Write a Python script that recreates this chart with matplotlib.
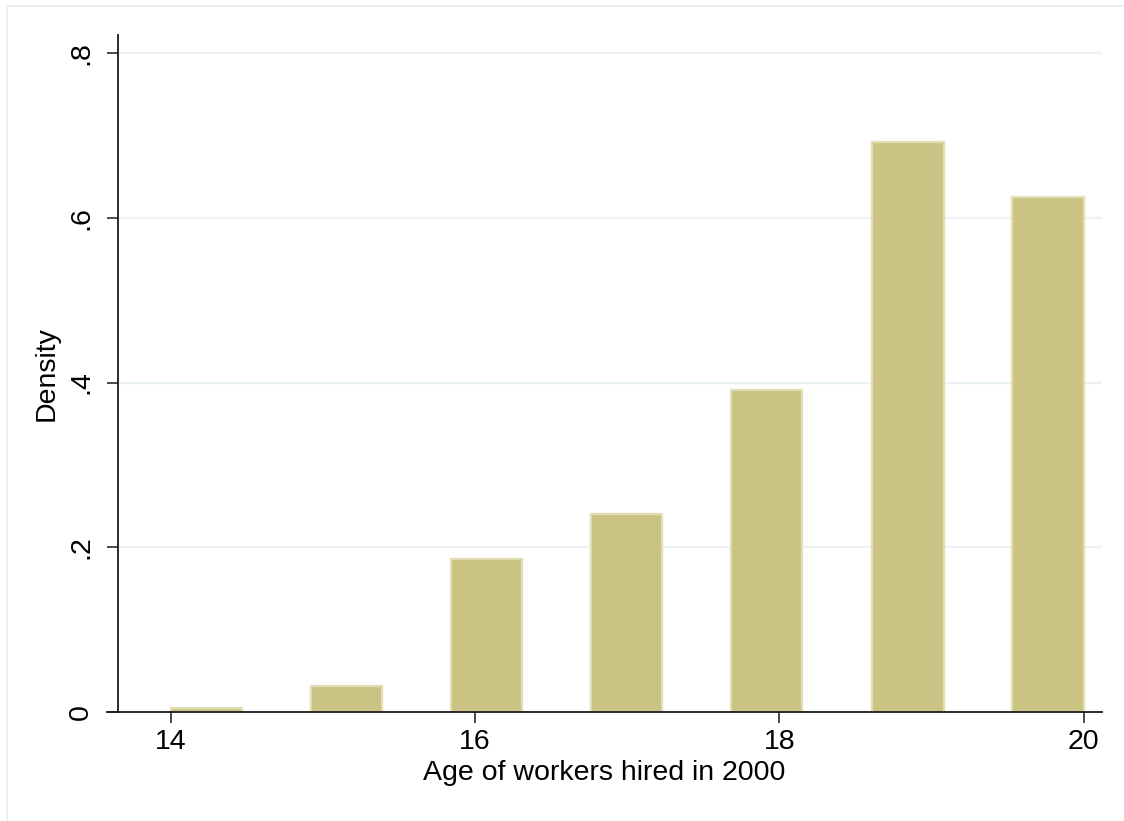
import matplotlib
matplotlib.use('Agg')
import matplotlib.pyplot as plt
from matplotlib.patches import Rectangle

plt.rcParams['font.family'] = ['Liberation Sans', 'DejaVu Sans']

# histogram bins (left edge of each bar) and densities
bin_left = [14.0, 14.92, 15.84, 16.76, 17.68, 18.61, 19.53]
bar_width = 0.47
density = [0.0045, 0.031, 0.186, 0.240, 0.391, 0.692, 0.625]

xticks = [14, 16, 18, 20]
yticks = [0, 0.2, 0.4, 0.6, 0.8]
ytick_labels = ['0', '.2', '.4', '.6', '.8']

bar_color = '#cbc383'
bar_edge = '#e2ddb2'
grid_color = '#eaf2f3'
axis_color = '#1a1a1a'

fig = plt.figure(figsize=(11.24, 8.21), dpi=100)
fig.patch.set_facecolor('white')

# light outer frame (left and top edges visible, rest cropped off)
fig.patches.append(Rectangle((7 / 1124, -0.1), 1.2, (821 - 6) / 821 + 0.1,
                             transform=fig.transFigure, fill=False,
                             edgecolor='#e6eeee', linewidth=1.2, zorder=0))

ax = fig.add_axes([107 / 1124, 109 / 821, (1102 - 107) / 1124, (712 - 35) / 821])
xmin, xmax = 13.58, 20.12
ax.set_xlim(xmin, xmax)
ax.set_ylim(0, 0.822)
yaxis_x = 13.65

# gridlines from y axis to right end
for t in yticks[1:]:
    ax.plot([yaxis_x, xmax], [t, t], color=grid_color, lw=1.6, zorder=1,
            solid_capstyle='butt')

ax.bar(bin_left, density, width=bar_width, align='edge', color=bar_color,
       edgecolor=bar_edge, linewidth=1.6, zorder=2)

for s in ['top', 'right']:
    ax.spines[s].set_visible(False)
ax.spines['left'].set_position(('data', yaxis_x))
ax.spines['left'].set_color(axis_color)
ax.spines['bottom'].set_color(axis_color)
ax.spines['left'].set_linewidth(1.3)
ax.spines['bottom'].set_linewidth(1.3)
ax.spines['left'].set_zorder(3)
ax.spines['bottom'].set_zorder(3)

ax.set_xticks(xticks)
ax.set_xticklabels([str(t) for t in xticks])
ax.set_yticks(yticks)
ax.set_yticklabels(ytick_labels, rotation=90, va='center')
ax.tick_params(axis='both', length=8, width=1.1, color=axis_color,
               labelsize=20.5, pad=4)
ax.tick_params(axis='y', pad=9)

ax.set_xlabel('Age of workers hired in 2000', fontsize=20.5, labelpad=4)
ax.set_ylabel('Density', fontsize=20.5, labelpad=6)

fig.savefig('out.png', dpi=100, facecolor='white')
